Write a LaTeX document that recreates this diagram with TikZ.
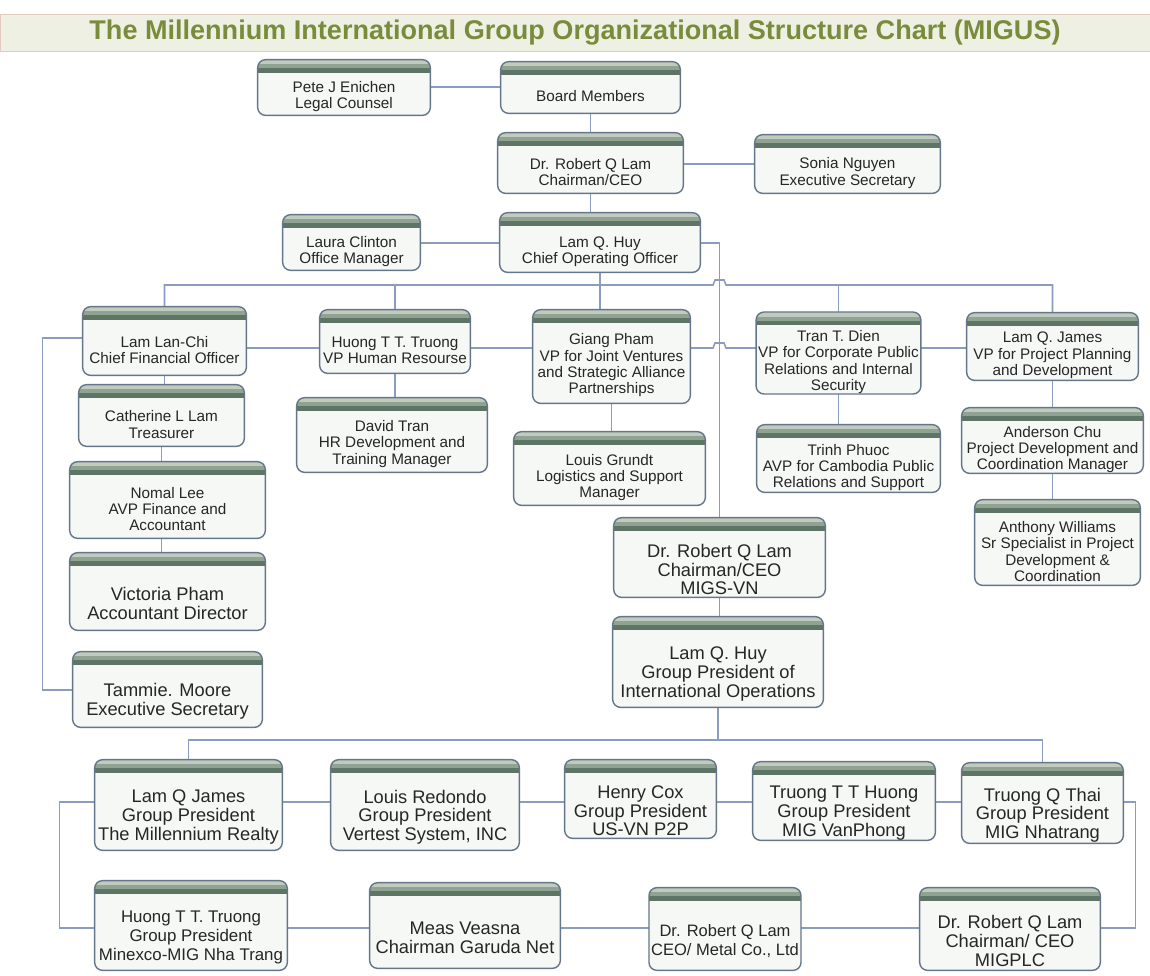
\documentclass[tikz,border=0pt]{standalone}
\usepackage{fontspec}
\setmainfont{Liberation Sans}
\usetikzlibrary{positioning, calc}
\definecolor{hdtop}{HTML}{C0CBBE}
\definecolor{hdmid}{HTML}{90A292}
\definecolor{hdbot}{HTML}{5E7566}
\definecolor{unitfill}{HTML}{F5F8F5}
\definecolor{unitedge}{HTML}{66768A}
\definecolor{linkblue}{HTML}{8A9CC0}
\definecolor{titlefill}{HTML}{EEF0E3}
\definecolor{titleedge}{HTML}{E3CBC2}
\definecolor{titletext}{HTML}{7A8C3C}
\pgfdeclarelayer{paper}
\pgfdeclarelayer{links}
\pgfdeclarelayer{boxes}
\pgfsetlayers{paper,links,boxes,main}

% frame with green header round a unit node; #2 = height of header above the node
\newcommand{\drawunit}[2]{%
	\fill[unitfill, rounded corners=4.5pt] ([yshift=#2]#1.north west) rectangle (#1.south east);
	\begin{scope}
		\clip[rounded corners=4.5pt] ([yshift=#2]#1.north west) rectangle (#1.south east);
		\fill[hdbot] ([yshift=#2]#1.north west) rectangle ([yshift=#2-0.26cm]#1.north east);
		\fill[hdmid] ([yshift=#2]#1.north west) rectangle ([yshift=#2-0.17cm]#1.north east);
		\fill[hdtop] ([yshift=#2]#1.north west) rectangle ([yshift=#2-0.09cm]#1.north east);
	\end{scope}
	\draw[unitframe] ([yshift=#2]#1.north west) rectangle (#1.south east);
}

\begin{document}
\begin{tikzpicture}[
		x=0.02cm, y=-0.02cm,
		unit/.style={align=center, inner xsep=1pt, inner ysep=0pt, text=black!85,
			font=\fontsize{8.7}{9.3}\selectfont},
		bigunit/.style={unit, font=\fontsize{10.4}{10.6}\selectfont},
		unitframe/.style={draw=unitedge, line width=0.8pt, rounded corners=4.5pt},
		link/.style={draw=linkblue, line width=0.9pt}
	]

	\begin{pgfonlayer}{paper}
		\fill[white] (0,0) rectangle (1150,975);
	\end{pgfonlayer}
	\useasboundingbox (0,0) rectangle (1150,975);

	\node[draw=titleedge, fill=titlefill, minimum width=23cm, minimum height=0.58cm, text=titletext, font=\bfseries\fontsize{15.4}{17}\selectfont] (title) at (575,32.5) {The Millennium International Group Organizational Structure Chart (MIGUS)};

	% top management
	\node[unit, minimum width=3.44cm, minimum height=0.74cm] (pete) at (344,96.5) {Pete J Enichen\\Legal Counsel};
	\node[unit, minimum width=3.58cm, minimum height=0.66cm] (board) at (590.5,96.5) {Board Members};
	\node[unit, minimum width=3.7cm, minimum height=0.84cm] (chair) at (590.5,172) {Dr. Robert Q Lam\\Chairman/CEO};
	\node[unit, minimum width=3.7cm, minimum height=0.8cm] (sonia) at (847.5,173) {Sonia Nguyen\\Executive Secretary};
	\node[unit, minimum width=2.74cm, minimum height=0.74cm] (laura) at (351.5,251.5) {Laura Clinton\\Office Manager};
	\node[unit, minimum width=4cm, minimum height=0.82cm] (coo) at (600,251.5) {Lam Q. Huy\\Chief Operating Officer};

	% vice presidents
	\node[unit, minimum width=3.26cm, minimum height=1cm] (cfo) at (164.5,350) {Lam Lan-Chi\\Chief Financial Officer};
	\node[unit, minimum width=3cm, minimum height=0.9cm] (hr) at (395,350.5) {Huong T T. Truong\\VP Human Resourse};
	\node[unit, minimum width=3.14cm, minimum height=1.5cm] (giang) at (611.5,365.5) {Giang Pham\\VP for Joint Ventures\\and Strategic Alliance\\Partnerships};
	\node[unit, minimum width=3.26cm, minimum height=1.24cm] (dien) at (838.5,362) {Tran T. Dien\\VP for Corporate Public\\Relations and Internal\\Security};
	\node[unit, minimum width=3.42cm, minimum height=0.98cm] (vpjames) at (1052.5,355.5) {Lam Q. James\\VP for Project Planning\\and Development};

	% staff under the vice presidents
	\node[unit, minimum width=3.3cm, minimum height=0.86cm] (catherine) at (161.5,424.5) {Catherine L Lam\\Treasurer};
	\node[unit, minimum width=3.9cm, minimum height=1.16cm] (nomal) at (167.5,509) {Nomal Lee\\AVP Finance and\\Accountant};
	\node[bigunit, minimum width=3.9cm, minimum height=1.06cm] (victoria) at (167.5,603.5) {Victoria Pham\\Accountant Director};
	\node[bigunit, minimum width=3.78cm, minimum height=1.02cm] (tammie) at (167.5,701.5) {Tammie. Moore\\Executive Secretary};
	\node[unit, minimum width=3.8cm, minimum height=1.12cm] (david) at (392,444) {David Tran\\HR Development and\\Training Manager};
	\node[unit, minimum width=3.82cm, minimum height=1.1cm] (grundt) at (609.5,477.5) {Louis Grundt\\Logistics and Support\\Manager};
	\node[unit, minimum width=3.66cm, minimum height=0.98cm] (trinh) at (848.5,467.5) {Trinh Phuoc\\AVP for Cambodia Public\\Relations and Support};
	\node[unit, minimum width=3.62cm, minimum height=0.94cm] (anderson) at (1052.5,449.5) {Anderson Chu\\Project Development and\\Coordination Manager};
	\node[unit, minimum width=3.3cm, minimum height=1.34cm] (anthony) at (1057.5,551.5) {Anthony Williams\\Sr Specialist in Project\\Development \&\\Coordination};

	% international operations
	\node[bigunit, minimum width=4.22cm, minimum height=1.1cm] (migsvn) at (719.5,569.5) {Dr. Robert Q Lam\\Chairman/CEO\\MIGS-VN};
	\node[bigunit, minimum width=4.2cm, minimum height=1.32cm] (grouppres) at (718,674) {Lam Q. Huy\\Group President of\\International Operations};

	\node[bigunit, minimum width=3.74cm, minimum height=1.32cm] (gpjames) at (188.5,817) {Lam Q James\\Group President\\The Millennium Realty};
	\node[bigunit, minimum width=3.76cm, minimum height=1.32cm] (redondo) at (425,817) {Louis Redondo\\Group President\\Vertest System, INC};
	\node[bigunit, minimum width=3.02cm, minimum height=1.08cm] (cox) at (640.5,811) {Henry Cox\\Group President\\US-VN P2P};
	\node[bigunit, minimum width=3.64cm, minimum height=1.08cm] (tthuong) at (844,813) {Truong T T Huong\\Group President\\MIG VanPhong};
	\node[bigunit, minimum width=3.22cm, minimum height=1.12cm] (qthai) at (1042.5,815) {Truong Q Thai\\Group President\\MIG Nhatrang};

	\node[bigunit, minimum width=3.84cm, minimum height=1.3cm, font=\fontsize{9.6}{10.6}\selectfont] (nhatrang) at (191,937.5) {Huong T T. Truong\\Group President\\Minexco-MIG Nha Trang};
	\node[bigunit, minimum width=3.8cm, minimum height=1.22cm] (meas) at (465,937.5) {Meas Veasna\\Chairman Garuda Net};
	\node[bigunit, minimum width=3cm, minimum height=1.16cm, font=\fontsize{9.4}{10.6}\selectfont] (metal) at (725,941) {Dr. Robert Q Lam\\CEO/ Metal Co., Ltd};
	\node[bigunit, minimum width=3.6cm, minimum height=1.16cm] (migplc) at (1010,941) {Dr. Robert Q Lam\\Chairman/ CEO\\MIGPLC};

	% frames
	\begin{pgfonlayer}{boxes}
		\foreach \unitname in {pete,board,chair,sonia,laura,coo,cfo,hr,giang,dien,vpjames,catherine,nomal,david,grundt,trinh,anderson,anthony}
			{\drawunit{\unitname}{0.36cm}}
		\foreach \unitname in {victoria,tammie,migsvn,grouppres,gpjames,redondo,cox,tthuong,qthai,nhatrang,meas,metal,migplc}
			{\drawunit{\unitname}{0.48cm}}
	\end{pgfonlayer}

	% bus lines
	\coordinate (toprow) at (0,87);
	\coordinate (chairrow) at (0,164);
	\coordinate (coorow) at (0,243);
	\coordinate (opsbus) at (600,285);
	\coordinate (vprow) at (0,348);
	\coordinate (gpbus) at (718,740);
	\coordinate (gprow) at (0,802);
	\coordinate (subrow) at (0,928);

	\begin{pgfonlayer}{links}
	% links, top
	\draw[link] (pete.east |- toprow) -- (board.west |- toprow);
	\draw[link] (board.south) -- (chair.north);
	\draw[link] (chair.east |- chairrow) -- (sonia.west |- chairrow);
	\draw[link] (chair.south) -- (chair.south |- coo.north);
	\draw[link] (laura.east |- coorow) -- (coo.west |- coorow);
	\draw[link] (coo.east |- coorow) -| (migsvn.north);
	\draw[link] (coo.south) -- (coo.south |- giang.north);
	\draw[link] (cfo.north) |- (713,285) -- (715,280) -- (724,280) -- (726,285) -| (vpjames.north);
	\draw[link] (hr.north) -- (hr.north |- opsbus);
	\draw[link] (dien.north) -- (dien.north |- opsbus);

	% links, vice president row
	\draw[link] (cfo.east |- vprow) -- (hr.west |- vprow);
	\draw[link] (hr.east |- vprow) -- (giang.west |- vprow);
	\draw[link] (giang.east |- vprow) -- (713,348) -- (715,343) -- (724,343) -- (726,348) -- (dien.west |- vprow);
	\draw[link] (dien.east |- vprow) -- (vpjames.west |- vprow);
	\draw[link] (cfo.west |- 0,338) -- ++(-40,0) |- (tammie.west |- 0,690);

	% links, columns
	\draw[link] (cfo.south) -- (cfo.south |- catherine.north);
	\draw[link] (catherine.south) -- (catherine.south |- nomal.north);
	\draw[link] (catherine.south |- nomal.south) -- (catherine.south |- victoria.north);
	\draw[link] (hr.south) -- (hr.south |- david.north);
	\draw[link] (giang.south) -- (giang.south |- grundt.north);
	\draw[link] (dien.south) -- (dien.south |- trinh.north);
	\draw[link] (vpjames.south) -- (vpjames.south |- anderson.north);
	\draw[link] (vpjames.south |- anderson.south) -- (vpjames.south |- anthony.north);

	% links, international operations
	\draw[link] (migsvn.south) -- (migsvn.south |- grouppres.north);
	\draw[link] (grouppres.south) -- (gpbus);
	\draw[link] (gpjames.north) |- (gpbus) -| (qthai.north);
	\draw[link] (gpjames.east |- gprow) -- (redondo.west |- gprow);
	\draw[link] (redondo.east |- gprow) -- (cox.west |- gprow);
	\draw[link] (cox.east |- gprow) -- (tthuong.west |- gprow);
	\draw[link] (tthuong.east |- gprow) -- (qthai.west |- gprow);
	\draw[link] (qthai.east |- gprow) -- ++(12,0) |- (migplc.east |- subrow);
	\draw[link] (migplc.west |- subrow) -- (metal.east |- subrow);
	\draw[link] (metal.west |- subrow) -- (meas.east |- subrow);
	\draw[link] (meas.west |- subrow) -- (nhatrang.east |- subrow);
	\draw[link] (nhatrang.west |- subrow) -- ++(-35,0) |- (gpjames.west |- gprow);
	\end{pgfonlayer}

\end{tikzpicture}
\end{document}
